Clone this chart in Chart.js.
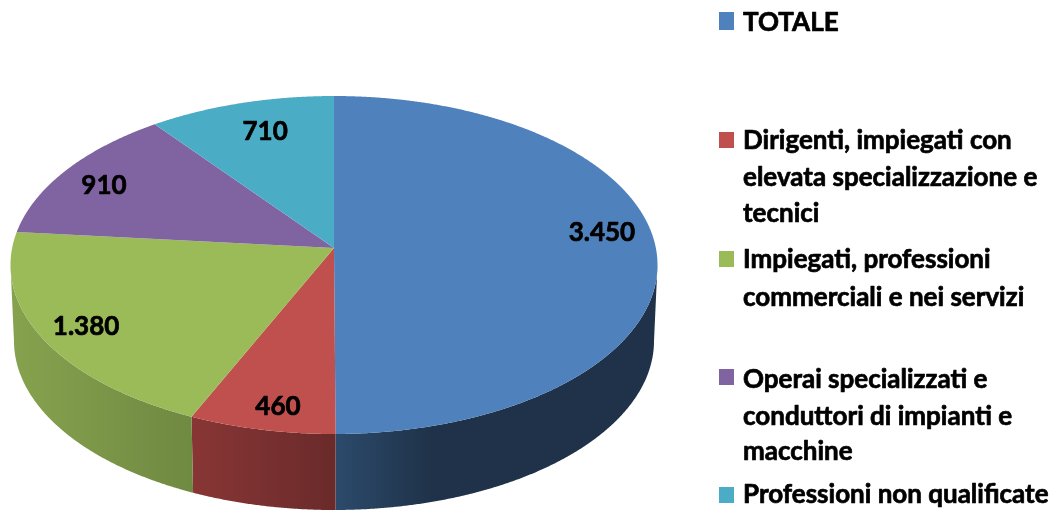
<!DOCTYPE html>
<html>
<head>
<meta charset="utf-8">
<style>html,body{margin:0;padding:0;background:#fff;overflow:hidden}canvas{display:block}</style>
<script src="https://cdn.jsdelivr.net/npm/chart.js@4/dist/chart.umd.min.js"></script>
</head>
<body>
<canvas id="c" width="1053" height="510"></canvas>
<script>
const categories = [
  ['TOTALE'],
  ['Dirigenti, impiegati con', 'elevata specializzazione e', 'tecnici'],
  ['Impiegati, professioni', 'commerciali e nei servizi'],
  ['Operai specializzati e', 'conduttori di impianti e', 'macchine'],
  ['Professioni non qualificate']
];
const values = [3450, 460, 1380, 910, 710];
const valueLabels = ['3.450', '460', '1.380', '910', '710'];
const colors = ['#4F81BD', '#C0504D', '#9BBB59', '#8064A2', '#4BACC6'];
const wallColors = [
  [[0, '#2c4a6b'], [0.3, '#1f3249'], [1, '#1f3249']],
  [[0, '#883635'], [1, '#6a2a2a']],
  [[0, '#87a24e'], [1, '#6f8a41']],
  [[0, '#64507f'], [1, '#64507f']],
  [[0, '#3b869b'], [1, '#3b869b']]
];

// Look of the tilted disc
const stretchX = 323.5 / 169;
const stretchXBase = 320 / 169;
const tilt = -0.1;
const depth = 76;
const labelAngleFrac = [0.466, 0.445, 0.487, 0.46, 0.54];
const labelRadiusFrac = [0.845, 0.881, 0.861, 0.836, 0.786];
const legendSwatchX = 719, legendTextX = 743;
const legendBaselines = [[31], [149, 186, 222], [268, 306], [388, 425, 460], [503]];
const legendSwatchY = [12, 132, 251, 369, 487];
const legendSwatchH = [18, 16, 16, 16, 16];
const fontSpec = 'bold 26px Lato, Carlito, sans-serif';
const textThicken = 0.7;

function project(arc, angle, r, base) {
  const u = r * Math.cos(angle), v = r * Math.sin(angle);
  const w = 1 + tilt * v;
  const up = u * Math.sqrt(1 - tilt * tilt) / w;
  const vp = (v + tilt) / w;
  const R = arc.outerRadius;
  return {
    x: arc.x + up * R * (base ? stretchXBase : stretchX),
    y: arc.y + vp * R + (base ? depth : 0),
    vp
  };
}

function boldText(ctx, s, x, y) {
  ctx.fillText(s, x, y);
  ctx.strokeText(s, x, y);
}

const pie3d = {
  id: 'pie3d',
  beforeDatasetDraw() { return false; },
  afterDatasetsDraw(chart) {
    const ctx = chart.ctx;
    const arcs = chart.getDatasetMeta(0).data;
    const step = Math.PI / 720;
    // side wall
    arcs.forEach((arc, i) => {
      const top = [], bot = [];
      for (let t = arc.startAngle; t <= arc.endAngle + 1e-6; t += step) {
        const p = project(arc, t, 1, false);
        if (p.vp >= 0) { top.push(p); bot.push(project(arc, t, 1, true)); }
      }
      const pe = project(arc, arc.endAngle, 1, false);
      if (pe.vp >= 0) { top.push(pe); bot.push(project(arc, arc.endAngle, 1, true)); }
      if (top.length < 2) return;
      const xs = top.map(p => p.x);
      const g = ctx.createLinearGradient(Math.min(...xs), 0, Math.max(...xs), 0);
      wallColors[i].forEach(s => g.addColorStop(s[0], s[1]));
      ctx.beginPath();
      top.forEach((p, k) => k ? ctx.lineTo(p.x, p.y) : ctx.moveTo(p.x, p.y));
      bot.reverse().forEach(p => ctx.lineTo(p.x, p.y));
      ctx.closePath();
      ctx.fillStyle = g;
      ctx.fill();
    });
    // top face
    arcs.forEach((arc, i) => {
      const c = project(arc, 0, 0, false);
      ctx.beginPath();
      ctx.moveTo(c.x, c.y);
      for (let t = arc.startAngle; t < arc.endAngle; t += step) {
        const p = project(arc, t, 1, false);
        ctx.lineTo(p.x, p.y);
      }
      const e = project(arc, arc.endAngle, 1, false);
      ctx.lineTo(e.x, e.y);
      ctx.closePath();
      ctx.fillStyle = colors[i];
      ctx.fill();
    });
    // value labels
    ctx.font = fontSpec;
    ctx.fillStyle = '#000';
    ctx.strokeStyle = '#000';
    ctx.lineWidth = textThicken;
    ctx.lineJoin = 'round';
    ctx.textAlign = 'center';
    ctx.textBaseline = 'middle';
    arcs.forEach((arc, i) => {
      const a = arc.startAngle + (arc.endAngle - arc.startAngle) * labelAngleFrac[i];
      const p = project(arc, a, labelRadiusFrac[i], false);
      boldText(ctx, valueLabels[i], p.x, p.y);
    });
    // legend
    ctx.textAlign = 'left';
    ctx.textBaseline = 'alphabetic';
    chart.data.labels.forEach((lines, i) => {
      ctx.fillStyle = colors[i];
      ctx.fillRect(legendSwatchX, legendSwatchY[i], 15, legendSwatchH[i]);
      ctx.fillStyle = '#000';
      lines.forEach((line, k) => boldText(ctx, line, legendTextX, legendBaselines[i][k]));
    });
  }
};

new Chart(document.getElementById('c'), {
  type: 'pie',
  data: {
    labels: categories,
    datasets: [{ data: values, backgroundColor: colors, borderWidth: 0 }]
  },
  options: {
    responsive: false,
    animation: false,
    layout: { padding: { left: 0, right: 385, top: 96, bottom: 76 } },
    plugins: { legend: { display: false }, tooltip: { enabled: false } }
  },
  plugins: [pie3d]
});
</script>
</body>
</html>
